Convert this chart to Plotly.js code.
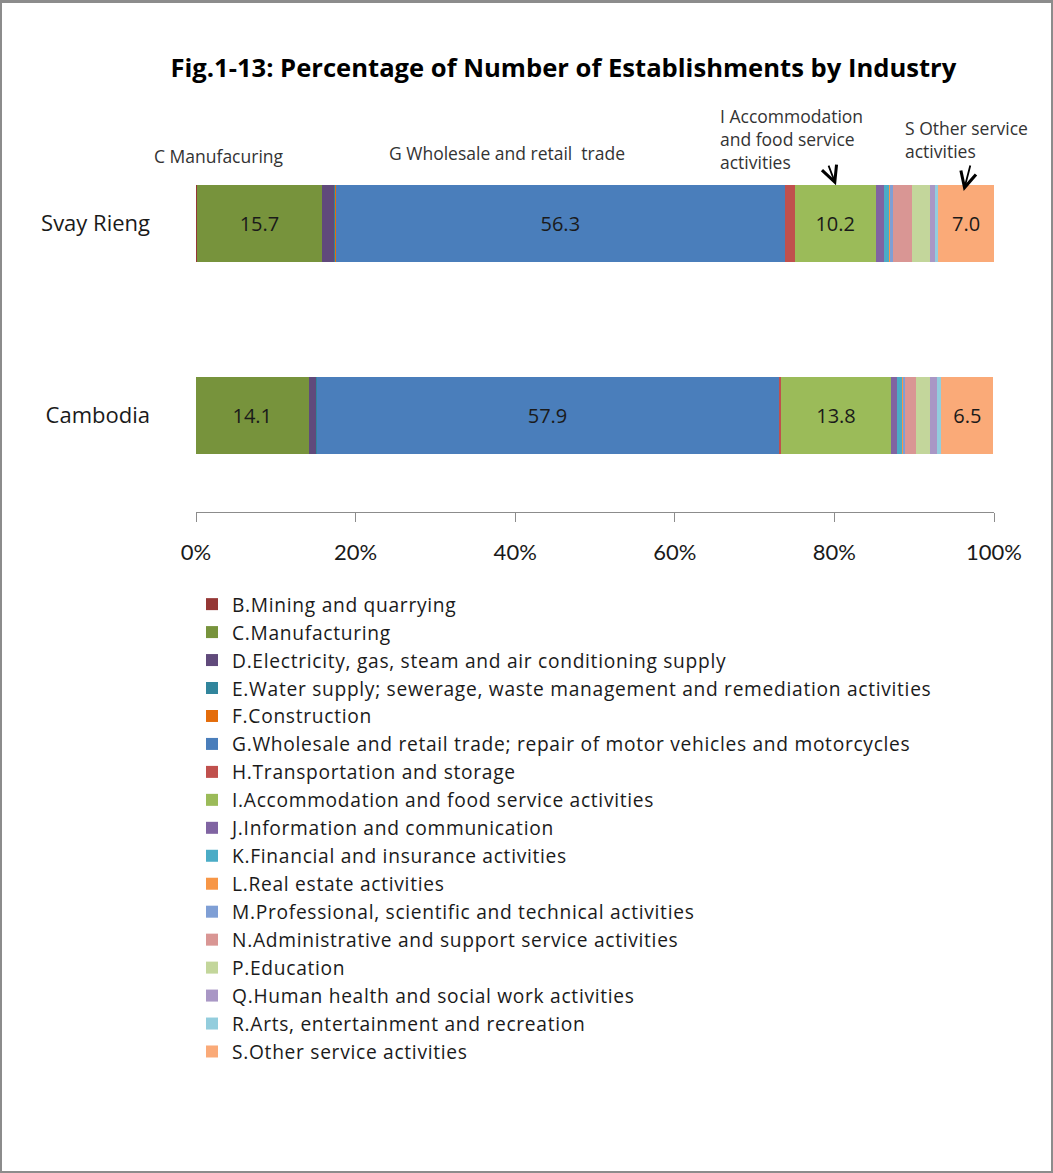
<!DOCTYPE html>
<html>
<head>
<meta charset="utf-8">
<script src="https://cdn.plot.ly/plotly-3.0.1.min.js"></script>
<style>
  html, body { margin: 0; padding: 0; background: #ffffff; }
  #wrap { position: relative; width: 1053px; height: 1173px; }
  #chart { position: absolute; left: 0; top: 0; width: 1053px; height: 1173px; }
  #frame { position: absolute; left: 0; top: 0; width: 1053px; height: 1173px; box-sizing: border-box;
           border: 2px solid #8c8c8c; border-top-width: 3px; pointer-events: none; }
  #chart .legend .legendtext { letter-spacing: 0.7px; }
  #chart .legend .scrollbox, #chart .legend { clip-path: none !important; }
</style>
</head>
<body>
<div id="wrap"><div id="chart"></div><div id="frame"></div></div>
<script>
const regions = ["Svay Rieng", "Cambodia"];

const industries = [
  "B.Mining and quarrying",
  "C.Manufacturing",
  "D.Electricity, gas, steam and air conditioning supply",
  "E.Water supply; sewerage, waste management and remediation activities",
  "F.Construction",
  "G.Wholesale and retail trade; repair of motor vehicles and motorcycles",
  "H.Transportation and storage",
  "I.Accommodation and food service activities",
  "J.Information and communication",
  "K.Financial and insurance activities",
  "L.Real estate activities",
  "M.Professional, scientific and technical activities",
  "N.Administrative and support service activities",
  "P.Education",
  "Q.Human health and social work activities",
  "R.Arts, entertainment and recreation",
  "S.Other service activities"
];

const svayRieng = [0.1, 15.7, 1.5, 0.1, 0.1, 56.3, 1.2, 10.2, 1.0, 0.7, 0.1, 0.3, 2.4, 2.3, 0.6, 0.4, 7.0];
const cambodia  = [0.0, 14.1, 0.9, 0.1, 0.0, 57.9, 0.3, 13.8, 0.8, 0.6, 0.1, 0.2, 1.4, 1.8, 0.9, 0.5, 6.5];

const labelled = [false, true, false, false, false, true, false, true, false, false, false, false, false, false, false, false, true];

const colors = ["#953735", "#77933C", "#604A7B", "#31859C", "#E46C0A", "#4A7EBB", "#C0504D", "#9BBB59",
                "#8064A2", "#4BACC6", "#F79646", "#7F9FD5", "#D99694", "#C3D69B", "#A997C5", "#93CDDD", "#FAAA78"];

const xTicks = [0, 20, 40, 60, 80, 100];

const FONT = "'Open Sans', Lato, sans-serif";

const traces = industries.map((name, i) => ({
  type: "bar",
  orientation: "h",
  name: name,
  y: regions,
  x: [svayRieng[i], cambodia[i]],
  text: [svayRieng[i].toFixed(1), cambodia[i].toFixed(1)],
  textposition: labelled[i] ? "inside" : "none",
  insidetextanchor: "middle",
  constraintext: "none",
  textfont: { family: FONT, size: 20, color: "#1a1a1a" },
  marker: { color: colors[i], line: { width: 0 } },
  width: 0.4,
  hoverinfo: "name+x"
}));

const annoFont = { family: FONT, size: 17.5, color: "#333333" };

const layout = {
  width: 1053,
  height: 1173,
  barmode: "stack",
  paper_bgcolor: "rgba(0,0,0,0)",
  plot_bgcolor: "#ffffff",
  margin: { l: 196, r: 59, t: 127, b: 661 },
  title: {
    text: "<b>Fig.1-13: Percentage of Number of Establishments by Industry</b>",
    font: { family: FONT, size: 25.6, color: "#000000" },
    xref: "container", x: 0.535, xanchor: "center",
    yref: "container", y: 1 - 68 / 1173, yanchor: "middle"
  },
  xaxis: {
    range: [0, 100],
    tickvals: xTicks,
    ticktext: xTicks.map(v => v + "%"),
    ticks: "outside",
    ticklen: 9,
    tickcolor: "#8c8c8c",
    tickwidth: 1,
    showline: true,
    linecolor: "#8c8c8c",
    linewidth: 1,
    showgrid: false,
    zeroline: false,
    side: "bottom",
    tickfont: { family: "Lato, sans-serif", size: 22, color: "#1a1a1a" },
    ticklabelstandoff: 12,
    fixedrange: true
  },
  yaxis: {
    type: "category",
    range: [1.5, -0.5],
    autorange: false,
    showline: false,
    showgrid: false,
    zeroline: false,
    ticks: "",
    ticklabelstandoff: 45,
    tickfont: { family: FONT, size: 22, color: "#1a1a1a" },
    fixedrange: true
  },
  showlegend: true,
  legend: {
    orientation: "v",
    x: -0.005, xanchor: "left",
    y: -0.19, yanchor: "top",
    font: { family: FONT, size: 19.2, color: "#1a1a1a" },
    tracegroupgap: 0,
    traceorder: "normal",
    bgcolor: "rgba(0,0,0,0)"
  },
  annotations: [
    { xref: "paper", yref: "paper", x: -0.0551, y: 0.9247, text: "C Manufacuring", showarrow: false,
      xanchor: "left", yanchor: "middle", font: annoFont },
    { xref: "paper", yref: "paper", x: 0.2393, y: 0.9325, text: "G Wholesale and retail  trade", showarrow: false,
      xanchor: "left", yanchor: "middle", font: annoFont },
    { xref: "paper", yref: "paper", x: 0.654, y: 0.9688, text: "I Accommodation<br>and food service<br>activities", showarrow: false,
      xanchor: "left", yanchor: "middle", align: "left", font: annoFont },
    { xref: "paper", yref: "paper", x: 0.886, y: 0.9675, text: "S Other service<br>activities", showarrow: false,
      xanchor: "left", yanchor: "middle", align: "left", font: annoFont },
    { xref: "paper", yref: "paper", x: 0.802, y: 0.849, text: "", showarrow: true,
      ax: -8, ay: -21, arrowhead: 5, arrowsize: 1.7, arrowwidth: 1.8, arrowcolor: "#000000" },
    { xref: "paper", yref: "paper", x: 0.962, y: 0.834, text: "", showarrow: true,
      ax: 7, ay: -27, arrowhead: 5, arrowsize: 1.7, arrowwidth: 1.8, arrowcolor: "#000000" }
  ]
};

Plotly.newPlot("chart", traces, layout, { displayModeBar: false, staticPlot: true });
</script>
</body>
</html>
